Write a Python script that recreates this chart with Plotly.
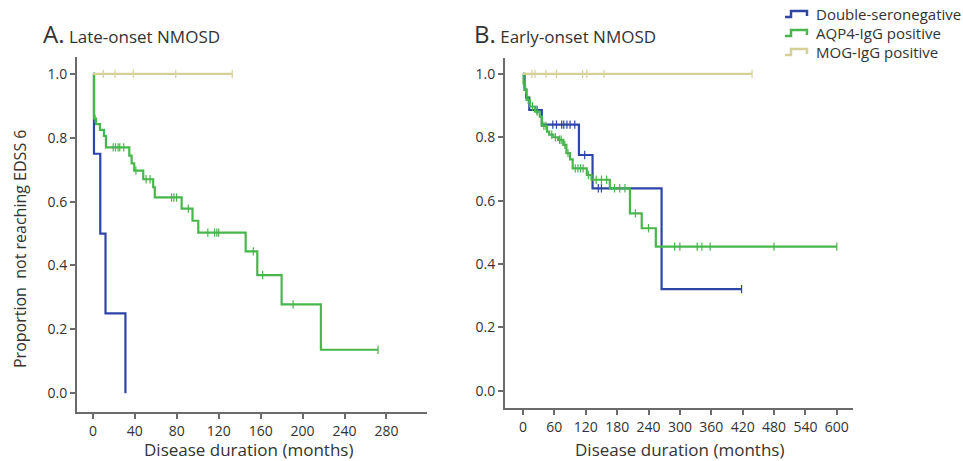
import numpy as np
import plotly.graph_objects as go

W, H = 963, 461

# ---------------- Data ----------------
series_names = ["Double-seronegative", "AQP4-IgG positive", "MOG-IgG positive"]
series_colors = ["#2c45a6", "#47b64b", "#d6d096"]

# Panel A: Late-onset NMOSD
late_dn_t = [0, 1, 7, 12, 31]
late_dn_s = [1.0, 0.75, 0.50, 0.25, 0.0]
late_dn_cens = []

late_aqp4_t = [0, 1, 3, 6.7, 10.5, 12.4, 34.7, 36.9, 39.4, 48, 57.5, 59, 84.6, 95, 100.5,
               145.7, 156.8, 180, 217.5, 272]
late_aqp4_s = [1.0, 0.86, 0.843, 0.825, 0.806, 0.77, 0.744, 0.72, 0.697, 0.67, 0.645, 0.613,
               0.578, 0.54, 0.503, 0.444, 0.37, 0.278, 0.136, 0.136]
late_aqp4_cens = [2, 19.3, 21.5, 24, 25.6, 29.4, 41, 50.7, 54.5, 75, 77.2, 79.8, 91,
                  109.6, 116, 118.2, 120, 153, 161.9, 191, 272]

late_mog_t = [0, 132.9]
late_mog_s = [1.0, 1.0]
late_mog_cens = [9.9, 21, 38.5, 79, 132.9]

# Panel B: Early-onset NMOSD
early_dn_t = [0, 3, 6, 12, 36, 107, 133, 265, 418]
early_dn_s = [1.0, 0.95, 0.925, 0.886, 0.84, 0.744, 0.639, 0.321, 0.321]
early_dn_cens = [27, 57, 64, 74, 78, 84, 90, 99, 118, 144, 150, 418]

early_aqp4_t = [0, 1, 3, 7, 13, 23, 32, 36, 46, 50, 58, 67, 77, 83, 90, 95, 122, 131, 166,
                204.5, 227, 254, 600]
early_aqp4_s = [1.0, 0.97, 0.95, 0.918, 0.897, 0.881, 0.865, 0.836, 0.818, 0.808, 0.80, 0.792,
                0.776, 0.75, 0.73, 0.702, 0.681, 0.666, 0.639, 0.56, 0.513, 0.455, 0.455]
early_aqp4_cens = [2, 5, 10, 18, 27, 40, 44, 55, 62, 70, 73, 80, 86, 100, 105, 110, 115,
                   125, 140, 150, 160, 175, 185, 195, 215, 240, 290, 300, 333, 342, 358,
                   480, 600]

early_mog_t = [0, 438]
early_mog_s = [1.0, 1.0]
early_mog_cens = [17, 23, 44, 64, 114, 122, 155, 438]

x_ticks_a = [0, 40, 80, 120, 160, 200, 240, 280]
x_ticks_b = [0, 60, 120, 180, 240, 300, 360, 420, 480, 540, 600]
y_ticks = [0.0, 0.2, 0.4, 0.6, 0.8, 1.0]


def step_at(times, surv, q):
    t = np.asarray(times, float)
    s = np.asarray(surv, float)
    idx = np.searchsorted(t, np.asarray(q, float), side="right") - 1
    idx = np.clip(idx, 0, len(s) - 1)
    return s[idx]


def px_x(p):
    return p / W


def px_y(p):
    return 1 - p / H


fig = go.Figure()

panels = [
    ("x", "y", [(late_dn_t, late_dn_s, late_dn_cens),
                (late_aqp4_t, late_aqp4_s, late_aqp4_cens),
                (late_mog_t, late_mog_s, late_mog_cens)]),
    ("x2", "y2", [(early_dn_t, early_dn_s, early_dn_cens),
                  (early_aqp4_t, early_aqp4_s, early_aqp4_cens),
                  (early_mog_t, early_mog_s, early_mog_cens)]),
]

for pi, (xa, ya, groups) in enumerate(panels):
    for si, (t, s, c) in enumerate(groups):
        fig.add_trace(go.Scatter(
            x=t, y=s, mode="lines", line=dict(color=series_colors[si], width=2.2, shape="hv"),
            name=series_names[si], showlegend=False,
            xaxis=xa, yaxis=ya, hoverinfo="skip"))
        if len(c):
            fig.add_trace(go.Scatter(
                x=c, y=step_at(t, s, c), mode="markers",
                marker=dict(symbol="line-ns-open", size=6, color=series_colors[si],
                            line=dict(color=series_colors[si], width=1.2)),
                showlegend=False, xaxis=xa, yaxis=ya, hoverinfo="skip"))

axis_common = dict(showline=True, linecolor="#6b6b6b", linewidth=2, ticks="outside",
                   ticklen=5, tickwidth=1.5, tickcolor="#6b6b6b", showgrid=False,
                   zeroline=False, automargin=False,
                   tickfont=dict(family="Open Sans", size=14, color="#333333"))

fig.update_layout(
    width=W, height=H, margin=dict(l=0, r=0, t=0, b=0, autoexpand=False),
    paper_bgcolor="white", plot_bgcolor="white",
    font=dict(family="Open Sans", color="#333333"),
    showlegend=False,
    xaxis=dict(domain=[px_x(77), px_x(427)], range=[-15.2, 318.7], anchor="y",
               tickvals=x_ticks_a, **axis_common),
    yaxis=dict(domain=[px_y(412), px_y(57)], range=[-0.059, 1.053], anchor="x",
               tickvals=y_ticks, tickformat=".1f", **axis_common),
    xaxis2=dict(domain=[px_x(505), px_x(853)], range=[-34.4, 631], anchor="y2",
                tickvals=x_ticks_b, **axis_common),
    yaxis2=dict(domain=[px_y(408), px_y(58)], range=[-0.054, 1.05], anchor="x2",
                tickvals=y_ticks, tickformat=".1f", **axis_common),
)

# Legend (drawn as step-shaped keys with text, as in the reference)
legend_rows_px = [14, 33, 52]
for name, color, yc in zip(series_names, series_colors, legend_rows_px):
    lo, hi = px_y(yc + 3), px_y(yc - 3)
    fig.add_shape(type="path", xref="paper", yref="paper",
                  path=f"M {px_x(785)},{lo} L {px_x(791)},{lo} L {px_x(791)},{hi} "
                       f"L {px_x(807)},{hi} L {px_x(807)},{px_y(yc + 2)}",
                  line=dict(color=color, width=2.5))
    fig.add_annotation(x=px_x(814), y=px_y(yc), xref="paper", yref="paper",
                       xanchor="left", yanchor="middle", showarrow=False, text=name,
                       font=dict(family="Open Sans", size=15, color="#333333"))

annots = [
    dict(x=px_x(41), y=px_y(33), xanchor="left", yanchor="middle", size=17,
         text="<span style='font-size:24px'>A.</span> Late-onset NMOSD"),
    dict(x=px_x(472), y=px_y(33), xanchor="left", yanchor="middle", size=17,
         text="<span style='font-size:24px'>B.</span> Early-onset NMOSD"),
    dict(x=px_x(248), y=px_y(449), xanchor="center", yanchor="middle", size=17,
         text="Disease duration (months)"),
    dict(x=px_x(679), y=px_y(449), xanchor="center", yanchor="middle", size=17,
         text="Disease duration (months)"),
    dict(x=px_x(20), y=px_y(249), xanchor="center", yanchor="middle", textangle=-90, size=16,
         text="Proportion&nbsp; not reaching EDSS 6"),
]
for a in annots:
    size = a.pop("size")
    a.update(xref="paper", yref="paper", showarrow=False,
             font=dict(family="Open Sans", size=size, color="#333333"))
    fig.add_annotation(**a)

fig.write_html("out.html", config={"displayModeBar": False},
               post_script="document.body.style.margin='0';document.body.style.padding='0';")
